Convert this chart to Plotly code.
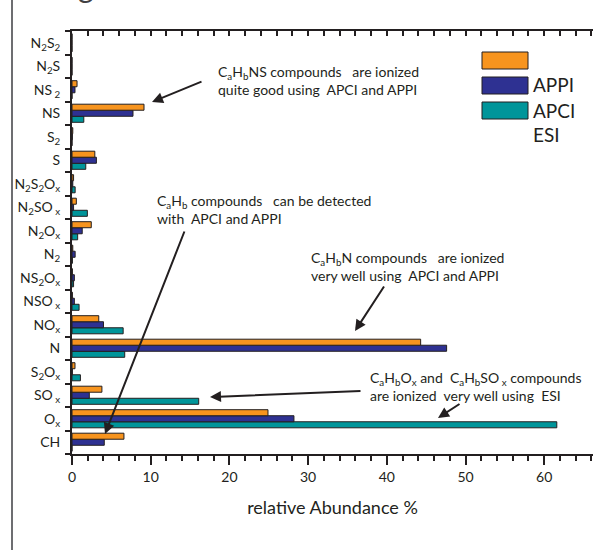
import plotly.graph_objects as go

# ---- data (bottom to top) ----
categories = ["CH", "Ox", "SOx", "S2Ox", "N", "NOx", "NSOx", "NS2Ox", "N2", "N2Ox",
              "N2SOx", "N2S2Ox", "S", "S2", "NS", "NS2", "N2S", "N2S2"]
tick_labels = ["CH", "O<sub>x</sub>", "SO<sub> x</sub>", "S<sub>2</sub>O<sub>x</sub>", "N",
               "NO<sub>x</sub>", "NSO<sub> x</sub>", "NS<sub>2</sub>O<sub>x</sub>", "N<sub>2</sub>",
               "N<sub>2</sub>O<sub>x</sub>", "N<sub>2</sub>SO<sub> x</sub>",
               "N<sub>2</sub>S<sub>2</sub>O<sub>x</sub>", "S", "S<sub>2</sub>", "NS",
               "NS<sub> 2</sub>", "N<sub>2</sub>S", "N<sub>2</sub>S<sub>2</sub>"]
appi = [6.6, 24.9, 3.8, 0.38, 44.3, 3.4, 0.05, 0.05, 0.1, 2.45, 0.55, 0.2, 2.9, 0.1, 9.15, 0.64, 0, 0]
apci = [4.1, 28.2, 2.2, 0.05, 47.6, 4.0, 0.3, 0.3, 0.4, 1.3, 0.2, 0.1, 3.1, 0.05, 7.75, 0.38, 0, 0]
esi = [0, 61.6, 16.1, 1.07, 6.7, 6.5, 0.9, 0.2, 0.05, 0.72, 1.95, 0.4, 1.75, 0, 1.5, 0, 0, 0]
series_names = ["APPI", "APCI", "ESI"]
x_ticks = [0, 10, 20, 30, 40, 50, 60]

# ---- style ----
W, H = 593, 550
L, T, R, B = 72, 31, 0, 96
PW, PH = W - L - R, H - T - B
INK = "#231F20"
COL = {"APPI": "#F7941E", "APCI": "#2E3192", "ESI": "#00959A"}
FONT = "Lato"


def px(xp):
    return (xp - L) / PW


def py(yp):
    return (H - B - yp) / PH


fig = go.Figure()
# add in reverse so APPI sits on top within each group
for name, vals in reversed(list(zip(series_names, [appi, apci, esi]))):
    fig.add_trace(go.Bar(
        y=categories, x=vals, name=name, orientation="h",
        marker=dict(color=COL[name], line=dict(color=INK, width=1)),
        showlegend=False,
    ))

fig.update_layout(
    width=W, height=H,
    margin=dict(l=L, r=R, t=T, b=B, autoexpand=False),
    paper_bgcolor="white", plot_bgcolor="white",
    barmode="group", bargap=0.23, bargroupgap=0,
    font=dict(family=FONT, color=INK, size=14),
    xaxis=dict(
        range=[0, 66.2], tickvals=x_ticks, ticks="outside", ticklen=9, tickwidth=2,
        tickcolor=INK, showline=True, linewidth=2, linecolor=INK, showgrid=False,
        zeroline=False, tickfont=dict(size=14),
        minor=dict(dtick=2, ticks="outside", ticklen=5, tickwidth=2, tickcolor=INK, showgrid=False),
        title=dict(text="relative Abundance %", font=dict(size=18), standoff=18),
    ),
    xaxis2=dict(
        range=[0, 66.2], overlaying="x", side="top", anchor="y", dtick=2, tick0=0,
        ticks="inside", ticklen=5, tickwidth=2, tickcolor=INK, showticklabels=False,
        showline=True, linewidth=2, linecolor=INK, showgrid=False, zeroline=False,
    ),
    yaxis=dict(
        categoryorder="array", categoryarray=categories, tickvals=categories,
        ticktext=tick_labels, tickson="boundaries", ticks="outside", ticklen=5,
        tickwidth=2, tickcolor=INK, showline=True, linewidth=2, linecolor=INK,
        showgrid=False, tickfont=dict(size=14), ticklabelstandoff=7,
    ),
)

# empty trace so the top axis is drawn
fig.add_trace(go.Scatter(x=[], y=[], xaxis="x2", yaxis="y", showlegend=False))

shapes = []
# left border line
shapes.append(dict(type="line", xref="paper", yref="paper", x0=px(12), x1=px(12),
                   y0=py(H), y1=py(0), line=dict(color="#6D6E71", width=2)))
# manual legend swatches
for name, (y0, y1) in zip(series_names, [(52, 69), (77, 94), (102, 119)]):
    shapes.append(dict(type="rect", xref="paper", yref="paper", x0=px(482), x1=px(528),
                       y0=py(y1), y1=py(y0), fillcolor=COL[name], line=dict(color=INK, width=1)))
fig.update_layout(shapes=shapes)

ann = []
for txt, yc in zip(series_names, [85, 110, 134]):
    ann.append(dict(text=txt, xref="paper", yref="paper", x=px(531), y=py(yc),
                    xanchor="left", yanchor="middle", showarrow=False, font=dict(size=19)))

afont = dict(size=14, color=INK)
notes = [
    ("C<sub>a</sub>H<sub>b</sub>NS compounds   are ionized<br>quite good using  APCI and APPI", 216, 81),
    ("C<sub>a</sub>H<sub>b</sub> compounds   can be detected<br>with  APCI and APPI", 155, 210),
    ("C<sub>a</sub>H<sub>b</sub>N compounds   are ionized<br>very well using  APCI and APPI", 309, 266),
    ("C<sub>a</sub>H<sub>b</sub>O<sub>x</sub> and  C<sub>a</sub>H<sub>b</sub>SO<sub> x</sub> compounds<br>are ionized  very well using  ESI", 368, 386),
]
for txt, xl, yc in notes:
    ann.append(dict(text=txt, xref="paper", yref="paper", x=px(xl), y=py(yc), xanchor="left",
                    yanchor="middle", align="left", showarrow=False, font=afont))

arrows = [((152, 102), (203, 81)), ((105, 434), (185, 230)), ((355, 331), (385, 285)),
          ((438, 418), (461, 403)), ((210, 397), (362, 391))]
for (hx, hy), (tx, ty) in arrows:
    ann.append(dict(text="", xref="paper", yref="paper", x=px(hx), y=py(hy),
                    axref="pixel", ayref="pixel", ax=tx - hx, ay=ty - hy, showarrow=True,
                    arrowhead=2, arrowsize=1.1, arrowwidth=2, arrowcolor=INK, standoff=0))

# fragment of a cut-off title at the very top
ann.append(dict(text="g", xref="paper", yref="paper", x=px(86), y=py(6), xanchor="center",
                yanchor="bottom", showarrow=False, font=dict(size=30, color="#414042")))
fig.update_layout(annotations=ann)

fig.write_html("out.html", config={"displayModeBar": False},
               post_script="document.body.style.margin='0';")
